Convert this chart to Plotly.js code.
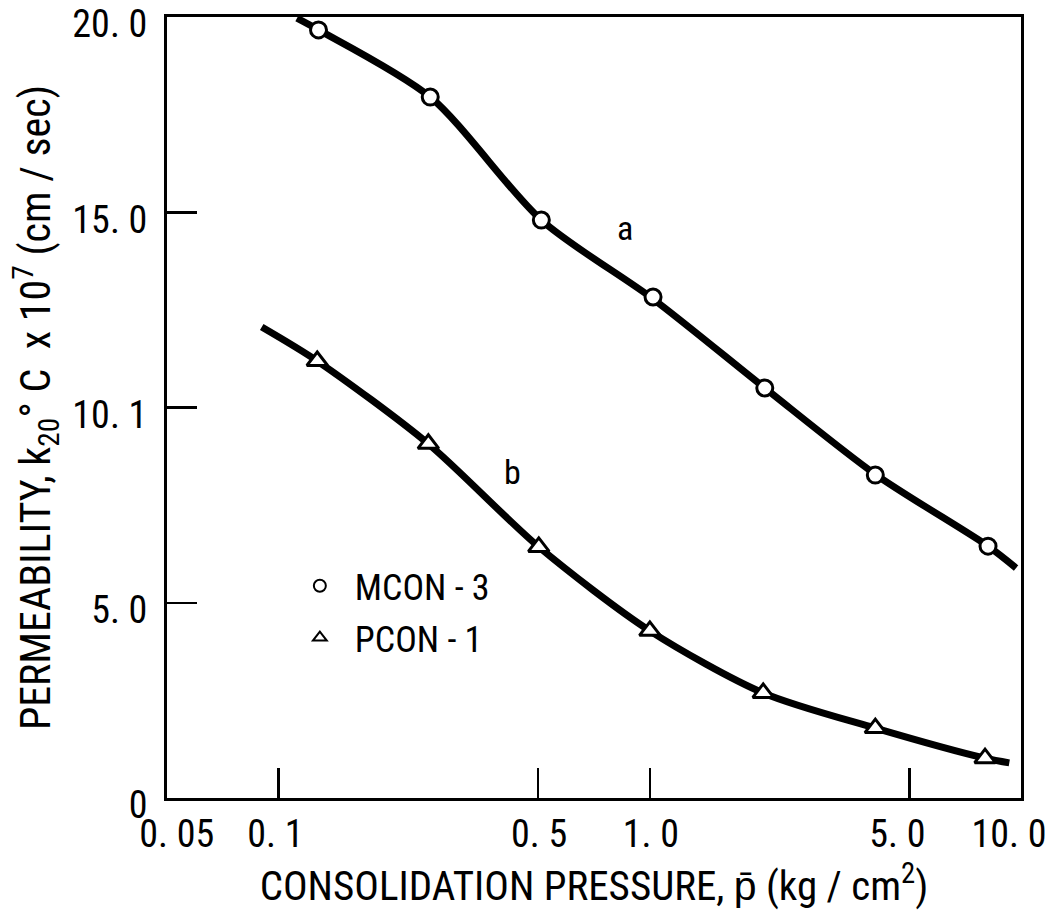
<!DOCTYPE html>
<html>
<head>
<meta charset="utf-8">
<script src="https://cdn.plot.ly/plotly-3.0.1.min.js"></script>
<style>
  html, body { margin: 0; padding: 0; background: #ffffff; }
  #chart { width: 1053px; height: 918px; }
</style>
</head>
<body>
<div id="chart"></div>
<script>
// Consolidation pressure (kg/cm^2) and permeability k20C x 10^7 (cm/sec)
const mconPressure = [0.128, 0.256, 0.51, 1.02, 2.04, 4.05, 8.15];
const mconPerm     = [19.67, 17.95, 14.80, 12.83, 10.50, 8.27, 6.45];

const pconPressure = [0.127, 0.253, 0.502, 1.0, 2.02, 4.05, 8.0];
const pconPerm     = [11.19, 9.07, 6.43, 4.28, 2.69, 1.79, 1.02];

// Fitted curves (a: MCON-3, b: PCON-1)
const curveAPressure = [0.112, 0.128, 0.256, 0.51, 1.02, 2.04, 4.05, 8.15, 9.7];
const curveAPerm     = [19.97, 19.67, 17.95, 14.80, 12.78, 10.50, 8.29, 6.45, 5.89];
const curveBPressure = [0.090, 0.127, 0.253, 0.502, 1.0, 2.02, 4.05, 8.0, 9.3];
const curveBPerm     = [12.06, 11.19, 9.07, 6.43, 4.28, 2.69, 1.79, 1.02, 0.90];

// Axis ticks (leading no-break spaces nudge labels to the right of a left-shifted row)
const NB = '\u00a0';
const xTickVals = [0.05, 0.1, 0.5, 1, 5, 10];
const xTickText = [NB.repeat(5) + '0. 05', NB.repeat(2) + '0. 1', NB.repeat(3) + '0. 5',
                   NB.repeat(3) + '1. 0', '5. 0', '10. 0'];
const yTickVals = [0, 5, 10, 15, 20];
const yTickText = ['0', '5. 0', '10. 1', '15. 0', '20. 0'];

const FONT = "'Noto Sans Condensed', 'Roboto Condensed', Roboto, sans-serif";
const INK = '#000000';

const traces = [
  {
    x: curveAPressure, y: curveAPerm, type: 'scatter', mode: 'lines',
    line: { color: INK, width: 7, shape: 'spline', smoothing: 0.8 },
    showlegend: false, hoverinfo: 'skip'
  },
  {
    x: curveBPressure, y: curveBPerm, type: 'scatter', mode: 'lines',
    line: { color: INK, width: 7, shape: 'spline', smoothing: 0.8 },
    showlegend: false, hoverinfo: 'skip'
  },
  {
    x: mconPressure, y: mconPerm, type: 'scatter', mode: 'markers',
    name: 'MCON - 3', legendgroup: 'm',
    marker: { symbol: 'circle', size: 16, color: '#ffffff', line: { color: INK, width: 3 } }
  },
  {
    x: pconPressure, y: pconPerm, type: 'scatter', mode: 'markers',
    name: 'PCON - 1', legendgroup: 'p',
    marker: { symbol: 'triangle-up', size: 18, color: '#ffffff', line: { color: INK, width: 3 } }
  }
];

const layout = {
  width: 1053,
  height: 918,
  margin: { l: 167, r: 32, t: 17, b: 120 },
  paper_bgcolor: '#ffffff',
  plot_bgcolor: '#ffffff',
  font: { family: FONT, color: INK, size: 38 },
  showlegend: true,
  legend: {
    x: 0.138, y: 0.31, xanchor: 'left', yanchor: 'top',
    bgcolor: 'rgba(0,0,0,0)', borderwidth: 0,
    font: { family: FONT, size: 36, color: INK },
    itemsizing: 'constant', itemwidth: 60, tracegroupgap: 2
  },
  xaxis: {
    type: 'log',
    range: [Math.log10(0.05), 1],
    tickvals: xTickVals, ticktext: xTickText,
    ticks: 'inside', ticklen: 30, tickwidth: 2.5, tickcolor: INK,
    showline: true, linewidth: 3, linecolor: INK, mirror: true,
    showgrid: false, zeroline: false,
    tickfont: { family: FONT, size: 38, color: INK },
    ticklabelstandoff: 0,
    ticklabelshift: -12,
    ticklabeloverflow: 'allow',
    title: {
      text: 'CONSOLIDATION PRESSURE, p\u0304 (kg / cm<sup>2</sup>)',
      font: { family: FONT, size: 41, color: INK },
      standoff: 10
    }
  },
  yaxis: {
    range: [0, 20],
    tickvals: yTickVals, ticktext: yTickText,
    ticks: 'inside', ticklen: 30, tickwidth: 2.5, tickcolor: INK,
    showline: true, linewidth: 3, linecolor: INK, mirror: true,
    showgrid: false, zeroline: false,
    tickfont: { family: FONT, size: 38, color: INK },
    ticklabelstandoff: 9,
    ticklabelshift: 7,
    ticklabeloverflow: 'allow',
    title: {
      text: 'PERMEABILITY, k<sub>20</sub>\u00b0 C  x 10<sup>7</sup> (cm / sec)',
      font: { family: FONT, size: 42, color: INK },
      standoff: 9
    }
  },
  annotations: [
    { x: Math.log10(0.857), y: 14.6, xref: 'x', yref: 'y', text: 'a', showarrow: false,
      font: { family: FONT, size: 34, color: INK } },
    { x: Math.log10(0.4256), y: 8.35, xref: 'x', yref: 'y', text: 'b', showarrow: false,
      font: { family: FONT, size: 34, color: INK } }
  ]
};

Plotly.newPlot('chart', traces, layout, { displayModeBar: false, staticPlot: true });
</script>
</body>
</html>
